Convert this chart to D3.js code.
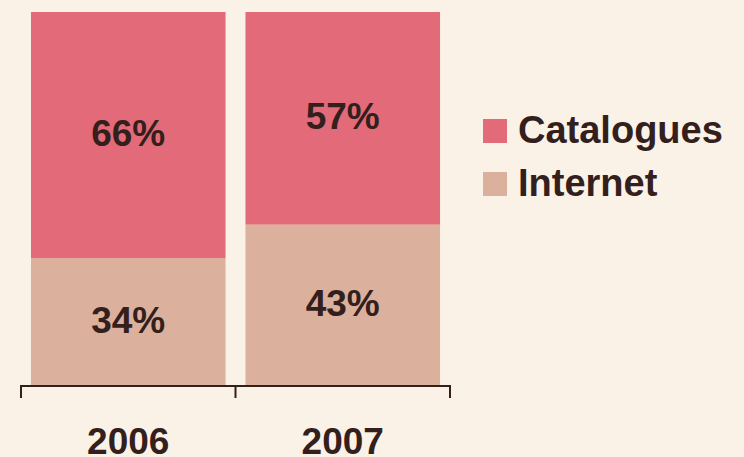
<!DOCTYPE html>
<html>
<head>
<meta charset="utf-8">
<script src="https://cdn.jsdelivr.net/npm/d3@7"></script>
<style>
  html, body { margin: 0; padding: 0; background: #faf2e7; }
  svg { display: block; }
</style>
</head>
<body>
<svg id="chart" width="744" height="457"></svg>
<script>
// data
const years = ["2006", "2007"];
const seriesNames = ["Internet", "Catalogues"];
const internet = [34, 43];
const catalogues = [66, 57];

const colors = { Internet: "#dbb09d", Catalogues: "#e36a78" };
const textColor = "#33201c";
const font = "'Liberation Sans', Arial, Helvetica, sans-serif";

const svg = d3.select("#chart"),
    width = +svg.attr("width"),
    height = +svg.attr("height");

svg.append("rect").attr("width", width).attr("height", height).attr("fill", "#faf2e7");

const x = d3.scaleBand()
    .domain(years)
    .range([21, 450])
    .paddingInner(0.093)
    .paddingOuter(0.0465);

const y = d3.scaleLinear()
    .domain([0, 100])
    .range([385, 12]);

const rows = years.map((yr, i) => ({ year: yr, Internet: internet[i], Catalogues: catalogues[i] }));
const stack = d3.stack().keys(seriesNames);
const layers = stack(rows);

const g = svg.append("g");

const layer = g.selectAll(".layer")
    .data(layers)
    .enter().append("g")
    .attr("class", "layer")
    .attr("fill", d => colors[d.key]);

layer.selectAll("rect")
    .data(d => d)
    .enter().append("rect")
    .attr("x", d => x(d.data.year))
    .attr("width", x.bandwidth())
    .attr("y", d => y(d[1]))
    .attr("height", d => y(d[0]) - y(d[1]));

// percentage labels
layer.selectAll("text")
    .data(d => d)
    .enter().append("text")
    .attr("x", d => x(d.data.year) + x.bandwidth() / 2)
    .attr("y", d => (y(d[0]) + y(d[1])) / 2 + 11)
    .attr("text-anchor", "middle")
    .attr("fill", textColor)
    .style("font-family", font)
    .style("font-weight", "bold")
    .style("font-size", "37px")
    .text(d => (d[1] - d[0]) + "%");

// x axis: line with ticks at band edges
const axis = svg.append("g").attr("stroke", textColor).attr("stroke-width", 2);
const edges = [x.range()[0]].concat(years.map(yr => x(yr) + x.bandwidth() + x.step() * x.paddingInner() / 2));
edges[edges.length - 1] = x.range()[1];
axis.append("line")
    .attr("x1", x.range()[0]).attr("x2", x.range()[1])
    .attr("y1", 386).attr("y2", 386);
axis.selectAll(".tick")
    .data(edges)
    .enter().append("line")
    .attr("x1", d => d).attr("x2", d => d)
    .attr("y1", 385).attr("y2", 398);

svg.selectAll(".year")
    .data(years)
    .enter().append("text")
    .attr("class", "year")
    .attr("x", d => x(d) + x.bandwidth() / 2)
    .attr("y", 454)
    .attr("text-anchor", "middle")
    .attr("fill", textColor)
    .style("font-family", font)
    .style("font-weight", "bold")
    .style("font-size", "37px")
    .text(d => d);

// legend
const legendNames = ["Catalogues", "Internet"];
const legend = svg.append("g").attr("transform", "translate(483,119)");
const item = legend.selectAll("g")
    .data(legendNames)
    .enter().append("g")
    .attr("transform", (d, i) => "translate(0," + i * 53 + ")");
item.append("rect")
    .attr("width", 24).attr("height", 24)
    .attr("fill", d => colors[d]);
item.append("text")
    .attr("x", 35)
    .attr("y", 24)
    .attr("fill", textColor)
    .style("font-family", font)
    .style("font-weight", "bold")
    .style("font-size", "38px")
    .text(d => d);
</script>
</body>
</html>
